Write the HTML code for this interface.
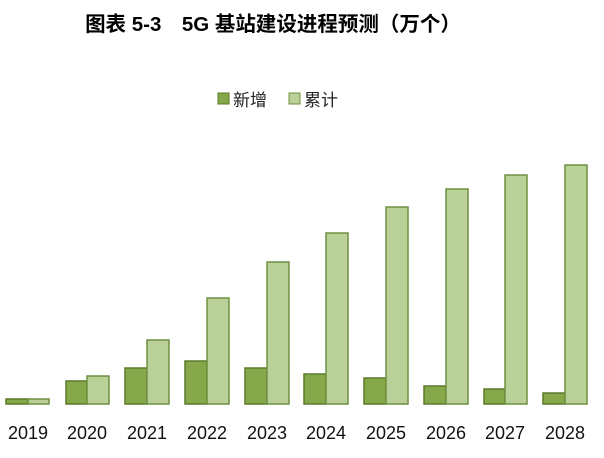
<!DOCTYPE html>
<html><head><meta charset="utf-8"><style>
body{margin:0;background:#fff;width:604px;height:453px;overflow:hidden}
</style></head><body>
<svg width="604" height="453" xmlns="http://www.w3.org/2000/svg">
<text x="273" y="31" text-anchor="middle" font-family="Liberation Sans, Noto Sans CJK SC, sans-serif" font-size="20.5" font-weight="bold" fill="#000">图表 5-3　5G 基站建设进程预测（万个）</text>
<rect x="218" y="93" width="11" height="11" fill="#86a84a" stroke="#5a7a2a"/>
<text x="233" y="106" font-family="Liberation Sans, Noto Sans CJK SC, sans-serif" font-size="17" fill="#222">新增</text>
<rect x="289" y="93" width="11" height="11" fill="#b9d198" stroke="#6f8f40"/>
<text x="304" y="106" font-family="Liberation Sans, Noto Sans CJK SC, sans-serif" font-size="17" fill="#222">累计</text>
<g stroke="#5a7a2a" stroke-width="1.5">
<g fill="#86a84a">
<rect x="6" y="399" width="22" height="5"/>
<rect x="66" y="381" width="21" height="23"/>
<rect x="125" y="368" width="22" height="36"/>
<rect x="185" y="361" width="22" height="43"/>
<rect x="245" y="368" width="22" height="36"/>
<rect x="304" y="374" width="22" height="30"/>
<rect x="364" y="378" width="22" height="26"/>
<rect x="424" y="386" width="22" height="18"/>
<rect x="484" y="389" width="21" height="15"/>
<rect x="543" y="393" width="22" height="11"/>
</g>
<g fill="#b9d198" stroke="#6f8f40">
<rect x="28" y="399" width="21" height="5"/>
<rect x="87" y="376" width="22" height="28"/>
<rect x="147" y="340" width="22" height="64"/>
<rect x="207" y="298" width="22" height="106"/>
<rect x="267" y="262" width="22" height="142"/>
<rect x="326" y="233" width="22" height="171"/>
<rect x="386" y="207" width="22" height="197"/>
<rect x="446" y="189" width="22" height="215"/>
<rect x="505" y="175" width="22" height="229"/>
<rect x="565" y="165" width="22" height="239"/>
</g>
</g>
<g font-family="Liberation Sans, sans-serif" font-size="18" fill="#111" text-anchor="middle">
<text x="28" y="439">2019</text><text x="87" y="439">2020</text><text x="147" y="439">2021</text>
<text x="207" y="439">2022</text><text x="267" y="439">2023</text><text x="326" y="439">2024</text>
<text x="386" y="439">2025</text><text x="446" y="439">2026</text><text x="505" y="439">2027</text>
<text x="565" y="439">2028</text>
</g>
</svg>
</body></html>
